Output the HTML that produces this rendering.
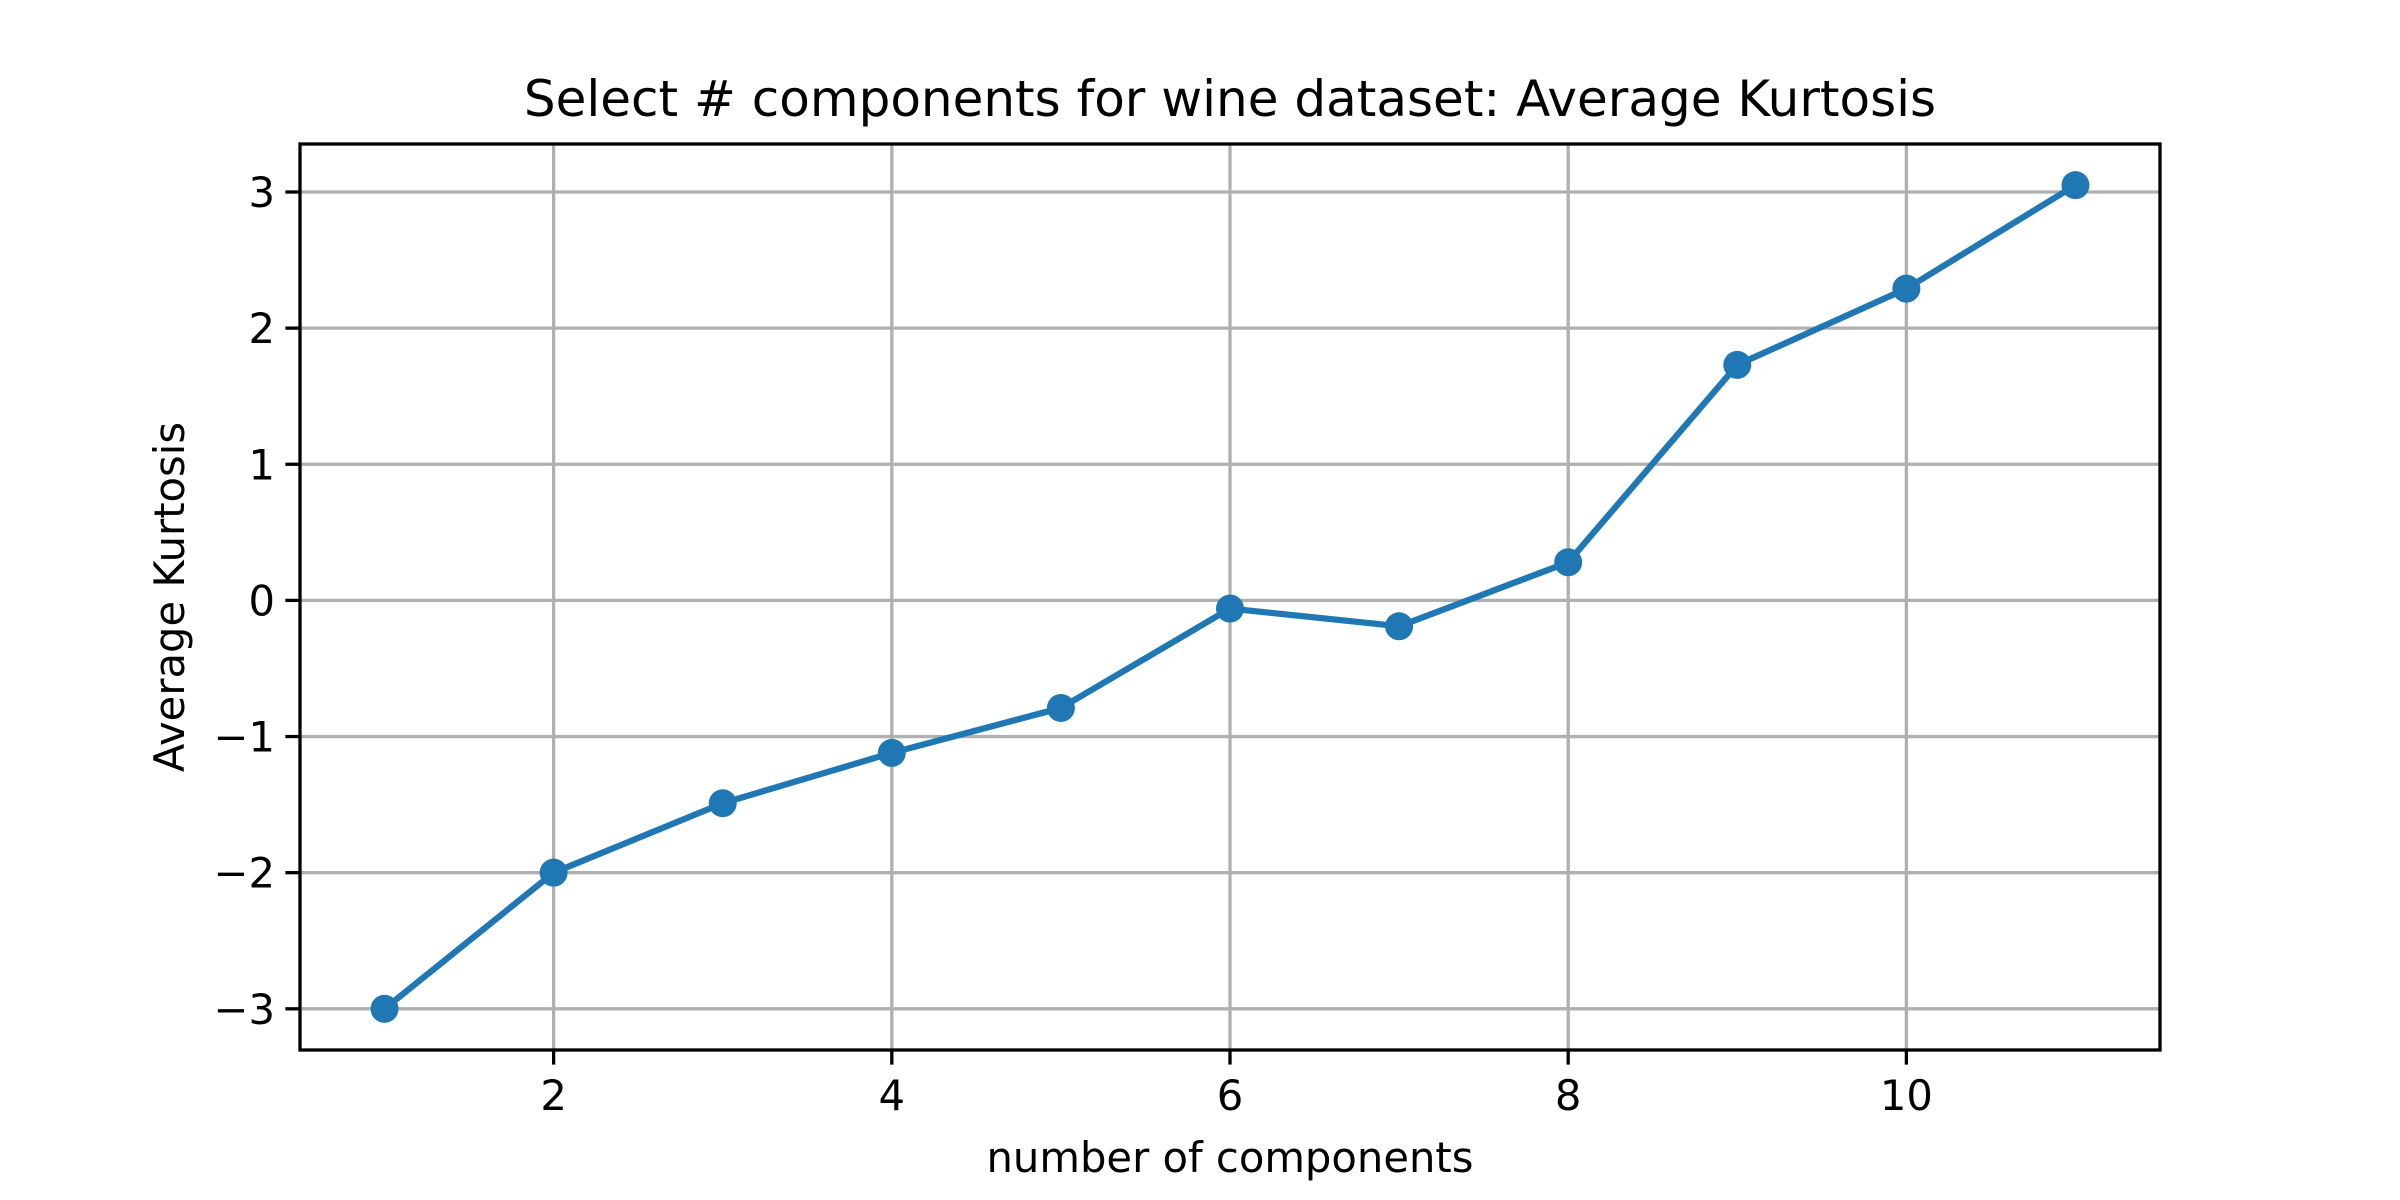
<!DOCTYPE html>
<html><head><meta charset="utf-8"><style>
html,body{margin:0;padding:0;background:#fff;}
svg{display:block;font-family:"DejaVu Sans","Liberation Sans",sans-serif;}
</style></head><body>
<svg id="chart" width="2400" height="1200" viewBox="0 0 2400 1200" xmlns="http://www.w3.org/2000/svg">
<rect width="2400" height="1200" fill="#fff"/>
<text x="1230" y="116" font-size="50" text-anchor="middle">Select # components for wine dataset: Average Kurtosis</text>
<g id="grid"></g>
<g id="ticks"></g>
<g id="series"></g>
<rect x="300" y="144" width="1860" height="906" fill="none" stroke="#000" stroke-width="3.3"/>
<text x="1230" y="1172" font-size="41.7" text-anchor="middle">number of components</text>
<text x="0" y="0" font-size="41.7" text-anchor="middle" transform="translate(184,597) rotate(-90)">Average Kurtosis</text>
</svg>
<script>
const categories = [1,2,3,4,5,6,7,8,9,10,11];
const kurtosis = [-3.0,-2.0,-1.49,-1.12,-0.79,-0.06,-0.19,0.28,1.73,2.29,3.05];
const xTicks = [2,4,6,8,10];
const yTicks = [-3,-2,-1,0,1,2,3];
const yTickLabels = ["\u22123","\u22122","\u22121","0","1","2","3"];

const L=300,R=2160,T=144,B=1050;
const xmin=0.5,xmax=11.5;
const ymn=Math.min(...kurtosis),ymx=Math.max(...kurtosis),pad=(ymx-ymn)*0.05;
const ymin=ymn-pad,ymax=ymx+pad;
const sx=v=>L+(v-xmin)/(xmax-xmin)*(R-L);
const sy=v=>B-(v-ymin)/(ymax-ymin)*(B-T);
const NS="http://www.w3.org/2000/svg";
function mk(tag,attrs,parent){const e=document.createElementNS(NS,tag);for(const k in attrs)e.setAttribute(k,attrs[k]);parent.appendChild(e);return e;}
const grid=document.getElementById('grid'),ticks=document.getElementById('ticks'),series=document.getElementById('series');
xTicks.forEach(v=>{
  const x=sx(v);
  const g=mk('line',{x1:x,x2:x,y1:T,y2:B,stroke:'#b0b0b0','stroke-width':3.3},grid);
  
  
  const t=mk('line',{x1:x,x2:x,y1:B,y2:B+14.6,stroke:'#000','stroke-width':3.3},ticks);
  
  
  const l=mk('text',{x:x,y:B+60,'font-size':41.7,'text-anchor':'middle'},ticks);
  l.textContent=String(v);
  
  
});
yTicks.forEach((v,i)=>{
  const y=sy(v);
  const g=mk('line',{x1:L,x2:R,y1:y,y2:y,stroke:'#b0b0b0','stroke-width':3.3},grid);
  
  
  const t=mk('line',{x1:L-14.6,x2:L,y1:y,y2:y,stroke:'#000','stroke-width':3.3},ticks);
  
  
  const l=mk('text',{x:L-25,y:y+15,'font-size':41.7,'text-anchor':'end'},ticks);
  l.textContent=yTickLabels[i];
  
  
});
const pts=categories.map((c,i)=>sx(c)+','+sy(kurtosis[i])).join(' ');
const pl=mk('polyline',{points:pts,fill:'none',stroke:'#1f77b4','stroke-width':6.25,'stroke-linejoin':'round'},series);


categories.forEach((c,i)=>{
  const m=mk('circle',{cx:sx(c),cy:sy(kurtosis[i]),r:14,fill:'#1f77b4'},series);
  
  
});
</script>
</body></html>
